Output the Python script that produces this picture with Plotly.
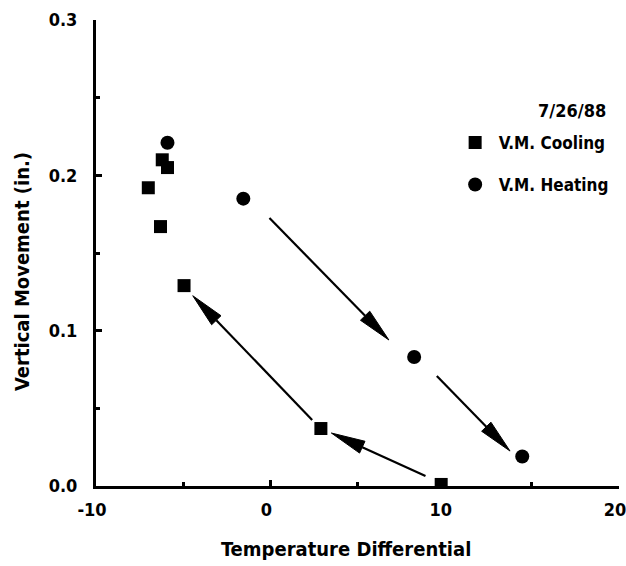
import math
import plotly.graph_objects as go

# Vertical movement vs temperature differential, 7/26/88
cool_x = [-7.0, -6.2, -5.9, -6.3, -4.95, 2.9, 9.8]
cool_y = [0.192, 0.210, 0.205, 0.167, 0.129, 0.037, 0.001]
heat_x = [-5.9, -1.55, 8.25, 14.45]
heat_y = [0.221, 0.185, 0.083, 0.019]

# Direction arrows: (tail_x, tail_y, head_x, head_y)
arrows = [
    (-0.05, 0.1725, 6.8, 0.094),
    (9.55, 0.0708, 13.75, 0.0225),
    (8.9, 0.0064, 3.5, 0.0341),
    (2.4, 0.0425, -4.45, 0.1225),
]

X_RANGE = [-10, 20]
Y_RANGE = [0, 0.3]
X_TICKS = [-10, 0, 10, 20]
Y_TICKS = [0, 0.1, 0.2, 0.3]
X_TITLE = "Temperature Differential"
Y_TITLE = "Vertical Movement (in.)"

FONT = "DejaVu Sans Condensed, Liberation Sans Narrow, Liberation Sans, Arial"
W, H = 626, 566
M = dict(l=96, r=7, t=20, b=80)
plot_w = W - M["l"] - M["r"]
plot_h = H - M["t"] - M["b"]
sx = plot_w / (X_RANGE[1] - X_RANGE[0])   # px per x unit
sy = plot_h / (Y_RANGE[1] - Y_RANGE[0])   # px per y unit


def px_to_paper(px, py):
    """Pixel position on the page -> paper fraction of the plot area."""
    return (px - M["l"]) / plot_w, (H - M["b"] - py) / plot_h


HEAD_LEN = 34   # px
HEAD_HALF = 6.5  # px

fig = go.Figure()
fig.add_trace(go.Scatter(
    x=cool_x, y=cool_y, mode="markers", name="V.M. Cooling",
    legendgroup="c",
    marker=dict(symbol="square", size=13, color="black"),
))
fig.add_trace(go.Scatter(
    x=heat_x, y=heat_y, mode="markers", name="V.M. Heating",
    legendgroup="h",
    marker=dict(symbol="circle", size=14, color="black"),
))

# long, narrow arrowheads built in screen proportions, then mapped back to data units
for tx, ty, hx, hy in arrows:
    dx, dy = (hx - tx) * sx, (hy - ty) * sy
    n = math.hypot(dx, dy)
    ux, uy = dx / n, dy / n
    nx, ny = -uy, ux
    bx = hx - HEAD_LEN * ux / sx
    by = hy - HEAD_LEN * uy / sy
    p1 = (bx + HEAD_HALF * nx / sx, by + HEAD_HALF * ny / sy)
    p2 = (bx - HEAD_HALF * nx / sx, by - HEAD_HALF * ny / sy)
    fig.add_shape(type="line", xref="x", yref="y", x0=tx, y0=ty, x1=bx, y1=by,
                  line=dict(color="black", width=2.2))
    fig.add_shape(type="path", xref="x", yref="y",
                  path=f"M{hx},{hy} L{p1[0]},{p1[1]} L{p2[0]},{p2[1]} Z",
                  fillcolor="black", line=dict(color="black", width=1))

# date label above the legend
dx_, dy_ = px_to_paper(608, 110)
fig.add_annotation(
    x=dx_, y=dy_, xref="paper", yref="paper", text="7/26/88",
    showarrow=False, xanchor="right", yanchor="middle",
    font=dict(family=FONT, size=18, color="black", weight="bold"),
)

# axis titles
tx_, ty_ = px_to_paper(346, 549)
fig.add_annotation(
    x=tx_, y=ty_, xref="paper", yref="paper", text=X_TITLE,
    showarrow=False, xanchor="center", yanchor="middle",
    font=dict(family=FONT, size=20, color="black", weight="bold"),
)
tx_, ty_ = px_to_paper(22, 272)
fig.add_annotation(
    x=tx_, y=ty_, xref="paper", yref="paper", text=Y_TITLE, textangle=-90,
    showarrow=False, xanchor="center", yanchor="middle",
    font=dict(family=FONT, size=20, color="black", weight="bold"),
)

fig.update_layout(
    width=W, height=H,
    margin=M,
    plot_bgcolor="white", paper_bgcolor="white",
    font=dict(family=FONT, size=17, color="black", weight="bold"),
    showlegend=True,
    legend=dict(
        x=0.680, y=0.775, xanchor="left", yanchor="top",
        bgcolor="rgba(0,0,0,0)", font=dict(family=FONT, size=17, weight="bold"),
        traceorder="grouped", tracegroupgap=17, itemwidth=37,
    ),
    xaxis=dict(
        range=X_RANGE, tickvals=X_TICKS, ticktext=[str(v) for v in X_TICKS],
        showgrid=False, zeroline=False, showline=True, linecolor="black", linewidth=3,
        ticks="inside", ticklen=6, tickwidth=3, tickcolor="black",
        minor=dict(tickvals=[-5, 5, 15], ticks="inside", ticklen=4, tickwidth=3, tickcolor="black"),
        tickfont=dict(size=18, weight="bold"), ticklabelstandoff=5, ticklabelshift=-4,
        ticklabeloverflow="allow", automargin=False,
    ),
    yaxis=dict(
        range=Y_RANGE, tickvals=Y_TICKS, ticktext=[f"{v:.1f}" for v in Y_TICKS],
        showgrid=False, zeroline=False, showline=True, linecolor="black", linewidth=3,
        ticks="inside", ticklen=6, tickwidth=3, tickcolor="black",
        minor=dict(tickvals=[0.05, 0.15, 0.25], ticks="inside", ticklen=4, tickwidth=3, tickcolor="black"),
        tickfont=dict(size=18, weight="bold"), ticklabelstandoff=12, automargin=False,
    ),
)

fig.write_html("out.html")
